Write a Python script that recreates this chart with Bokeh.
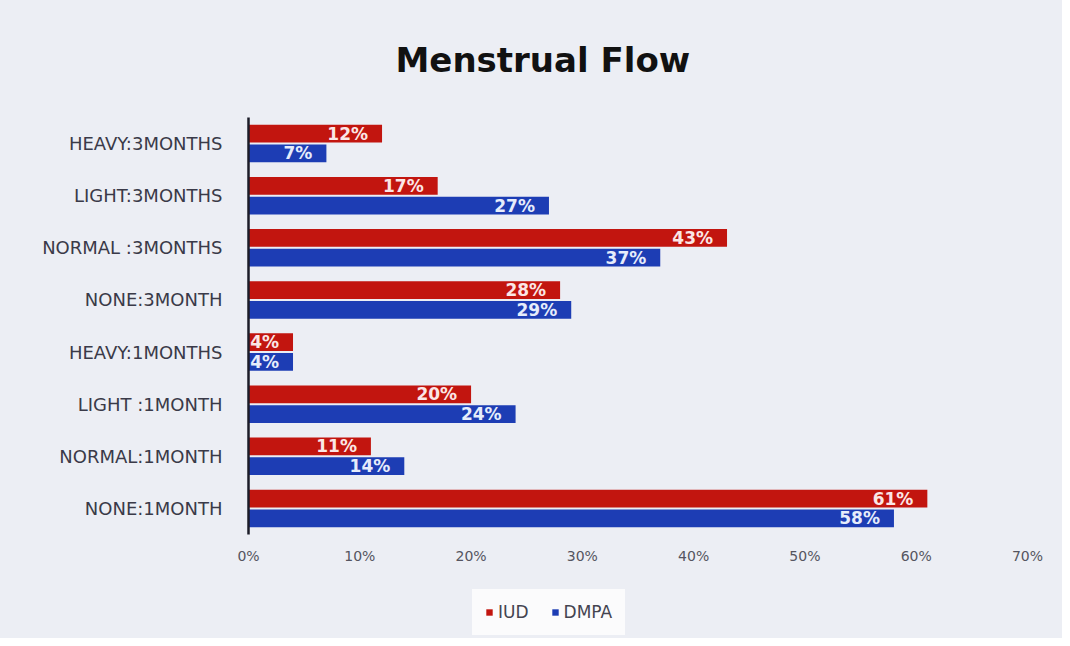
from bokeh.plotting import figure
from bokeh.models import ColumnDataSource, FactorRange, FixedTicker, Legend, LegendItem, Title
from bokeh.layouts import column
from bokeh.transform import dodge
from bokeh.core.properties import value
from bokeh.embed import file_html
from bokeh.resources import INLINE

categories = ["HEAVY:3MONTHS", "LIGHT:3MONTHS", "NORMAL :3MONTHS", "NONE:3MONTH",
              "HEAVY:1MONTHS", "LIGHT :1MONTH", "NORMAL:1MONTH", "NONE:1MONTH"]
iud = [12, 17, 43, 28, 4, 20, 11, 61]
dmpa = [7, 27, 37, 29, 4, 24, 14, 58]
series_names = ["IUD", "DMPA"]
tick_values = [0, 10, 20, 30, 40, 50, 60, 70]
tick_labels = ["0%", "10%", "20%", "30%", "40%", "50%", "60%", "70%"]

RED = "#c2150f"
BLUE = "#1d3db4"
BG = "#eceef4"
BOX = "#fbfbfc"

src = ColumnDataSource(dict(
    cat=categories, iud=iud, dmpa=dmpa,
    iud_lbl=[f"{v}%" for v in iud], dmpa_lbl=[f"{v}%" for v in dmpa],
))

p = figure(width=1062, height=570, output_backend="svg", toolbar_location=None,
           y_range=FactorRange(factors=categories[::-1], range_padding=0),
           x_range=(0, 70),
           min_border_left=248, min_border_right=35, min_border_top=116, min_border_bottom=36)

p.background_fill_alpha = 0
p.border_fill_color = BG
p.outline_line_color = None
p.xgrid.grid_line_color = None
p.ygrid.grid_line_color = None

p.hbar(y=dodge("cat", 0.19, range=p.y_range), right="iud", left=0, height=0.34,
       source=src, fill_color=RED, line_color=None)
p.hbar(y=dodge("cat", -0.19, range=p.y_range), right="dmpa", left=0, height=0.34,
       source=src, fill_color=BLUE, line_color=None)

p.text(x="iud", y=dodge("cat", 0.19, range=p.y_range), text="iud_lbl", source=src,
       text_align="right", text_baseline="middle", x_offset=-14,
       text_color="#fbe6e6", text_font=value("DejaVu Sans"), text_font_size="17px",
       text_font_style="bold")
p.text(x="dmpa", y=dodge("cat", -0.19, range=p.y_range), text="dmpa_lbl", source=src,
       text_align="right", text_baseline="middle", x_offset=-14,
       text_color="#e6ecfb", text_font=value("DejaVu Sans"), text_font_size="17px",
       text_font_style="bold")

# axes
p.xaxis.ticker = FixedTicker(ticks=tick_values)
p.xaxis.major_label_overrides = {v: l for v, l in zip(tick_values, tick_labels)}
p.xaxis.axis_line_color = None
p.xaxis.major_tick_line_color = None
p.xaxis.minor_tick_line_color = None
p.xaxis.major_label_standoff = 7
p.xaxis.major_label_text_font = "DejaVu Sans"
p.xaxis.major_label_text_font_size = "14px"
p.xaxis.major_label_text_color = "#555560"

p.yaxis.axis_line_color = "#1c1c28"
p.yaxis.axis_line_width = 2.5
p.yaxis.major_tick_line_color = None
p.yaxis.minor_tick_line_color = None
p.yaxis.major_label_standoff = 20
p.yaxis.major_label_text_font = "DejaVu Sans"
p.yaxis.major_label_text_font_size = "18px"
p.yaxis.major_label_text_color = "#3a3a48"

# title
t = Title(text="Menstrual Flow", align="left", offset=147,
          text_font="DejaVu Sans", text_font_size="34px", text_font_style="bold",
          text_color="#111111", standoff=75)
p.add_layout(t, "above")

# legend strip below the chart: same series with zero-height bars outside the view
q = figure(width=1062, height=68, output_backend="svg", toolbar_location=None,
           title=None, x_range=(-3, -2),
           y_range=FactorRange(factors=categories[::-1]),
           min_border_left=0, min_border_right=0, min_border_top=0, min_border_bottom=0)
q.axis.visible = False
q.grid.visible = False
q.outline_line_color = None
q.background_fill_alpha = 0
q.border_fill_color = BG
lr1 = q.hbar(y="cat", right="iud", left=0, height=0, source=src,
             fill_color=RED, line_color=None)
lr2 = q.hbar(y="cat", right="dmpa", left=0, height=0, source=src,
             fill_color=BLUE, line_color=None)

legend = Legend(items=[LegendItem(label=series_names[0], renderers=[lr1]),
                       LegendItem(label=series_names[1], renderers=[lr2])],
                orientation="horizontal", location=(224, 3),
                background_fill_color=BOX, background_fill_alpha=1.0,
                border_line_color=BOX, border_line_width=1,
                padding=12, spacing=22, margin=0,
                glyph_width=8, glyph_height=8, label_standoff=5,
                label_text_font="DejaVu Sans", label_text_font_size="17px",
                label_text_color="#444450")
q.add_layout(legend, "center")

layout = column(p, q, spacing=0, styles={"background-color": BG})
open("out.html", "w").write(file_html(layout, INLINE))
